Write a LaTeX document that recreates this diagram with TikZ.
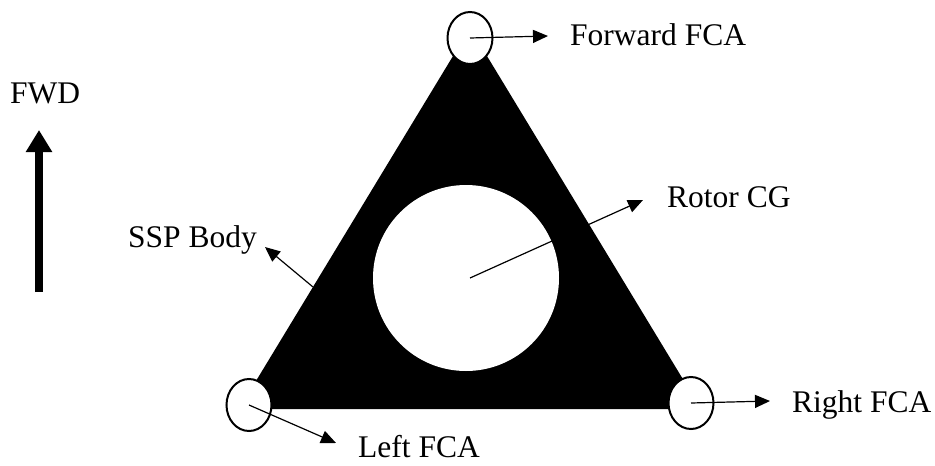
\documentclass[tikz,border=0pt]{standalone}
\usepackage{fontspec}
\setmainfont{Liberation Serif}
\usetikzlibrary{arrows.meta,shapes.geometric}
\begin{document}
\begin{tikzpicture}[x=1pt,y=-1pt,
  lbl/.style={inner sep=0pt,font=\fontsize{31.5}{36}\selectfont},
  fca/.style={ellipse,draw=black,fill=white,line width=2pt,minimum width=45pt,minimum height=52pt,inner sep=0pt},
  ptr/.style={line width=1.2pt,-{Triangle[length=15pt,width=13pt]}},
  bigptr/.style={line width=8pt,-{Triangle[length=22pt,width=25pt]}}]
\useasboundingbox[fill=white] (0,0) rectangle (935,466);
% body
\fill[black] (470,28) -- (239,409) -- (701,409) -- cycle;
\node[circle,fill=white,minimum size=186pt,inner sep=0pt] (rotor) at (466,278) {};
\node[fca] (ffca) at (470,38) {};
\node[fca] (lfca) at (249,405) {};
\node[fca] (rfca) at (691,403) {};
% labels
\node[lbl,anchor=base west] (tf) at (570,45) {Forward FCA};
\node[lbl,anchor=base west] (tr) at (792,412) {Right FCA};
\node[lbl,anchor=base west] (tl) at (358,457) {Left FCA};
\node[lbl,anchor=base east] (ts) at (257,247) {SSP Body};
\node[lbl,anchor=base west] (tc) at (667,207) {Rotor CG};
\node[lbl,anchor=base west] (tw) at (10,103) {FWD};
% arrow coordinates
\coordinate (ef) at (548,36);
\coordinate (er) at (770,401);
\coordinate (el) at (336,443);
\coordinate (sb) at (313,287);
\coordinate (es) at (265,247);
\coordinate (rc) at (470,278);
\coordinate (ec) at (643,200);
\coordinate (wb) at (39,292);
\coordinate (wt) at (39,130);
% arrows
\draw[ptr] (ffca.center) -- (ef);
\draw[ptr] (rfca.center) -- (er);
\draw[ptr] (lfca.center) -- (el);
\draw[ptr] (sb) -- (es);
\draw[ptr] (rc) -- (ec);
\draw[bigptr] (wb) -- (wt);
\end{tikzpicture}
\end{document}
